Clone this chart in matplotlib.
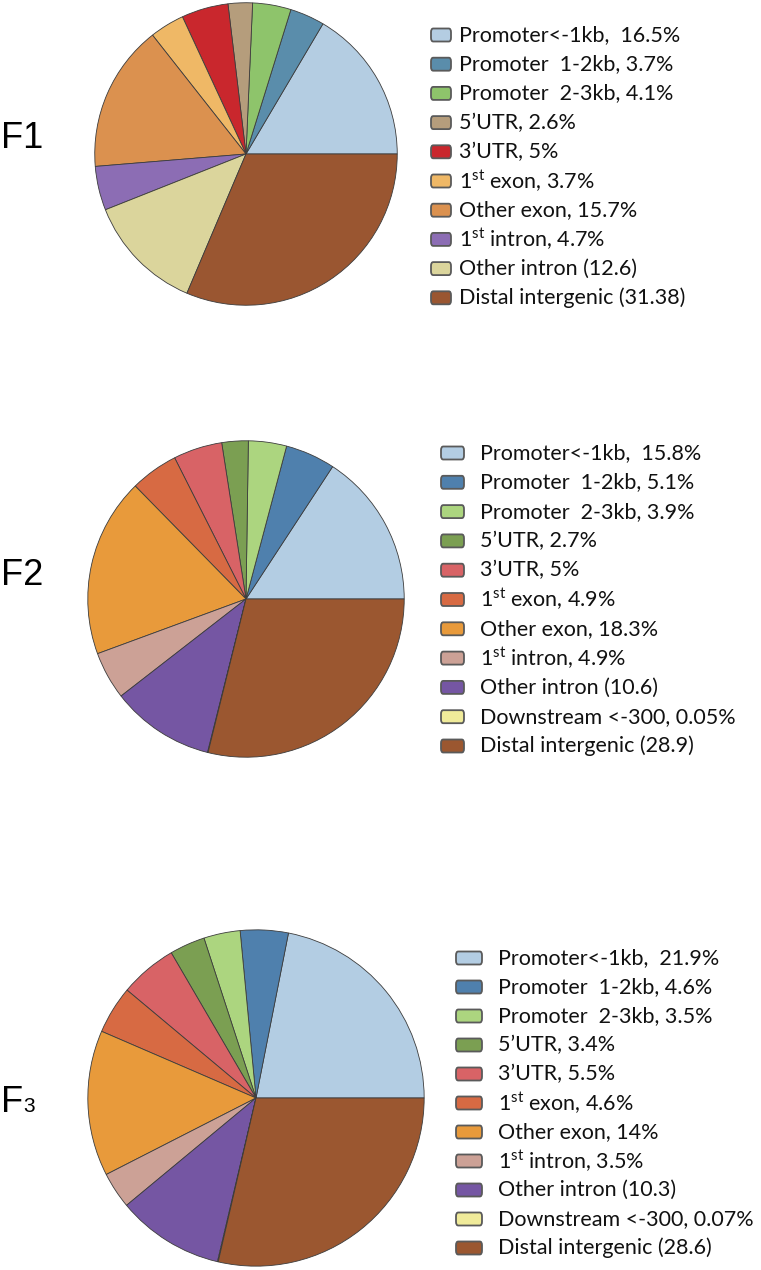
import matplotlib.pyplot as plt
from matplotlib.patches import FancyBboxPatch

plt.rcParams['mathtext.fontset'] = 'custom'
plt.rcParams['mathtext.rm'] = 'Lato'
plt.rcParams['mathtext.it'] = 'Lato'

W, H = 761, 1270

# F1
labels1 = ["Promoter<-1kb,  16.5%", "Promoter  1-2kb, 3.7%", "Promoter  2-3kb, 4.1%",
           "5’UTR, 2.6%", "3’UTR, 5%", "1$^{\\rm st}$ exon, 3.7%", "Other exon, 15.7%",
           "1$^{\\rm st}$ intron, 4.7%", "Other intron (12.6)", "Distal intergenic (31.38)"]
values1 = [16.5, 3.7, 4.1, 2.6, 5, 3.7, 15.7, 4.7, 12.6, 31.38]
colors1 = ["#b4cde2", "#5a8dab", "#8ec46b", "#b59d7c", "#c9272d",
           "#efb866", "#db914f", "#8c6db4", "#dbd59c", "#9a5631"]

# F2
labels2 = ["Promoter<-1kb,  15.8%", "Promoter  1-2kb, 5.1%", "Promoter  2-3kb, 3.9%",
           "5’UTR, 2.7%", "3’UTR, 5%", "1$^{\\rm st}$ exon, 4.9%", "Other exon, 18.3%",
           "1$^{\\rm st}$ intron, 4.9%", "Other intron (10.6)", "Downstream <-300, 0.05%",
           "Distal intergenic (28.9)"]
values2 = [15.8, 5.1, 3.9, 2.7, 5, 4.9, 18.3, 4.9, 10.6, 0.05, 28.9]

# F3
labels3 = ["Promoter<-1kb,  21.9%", "Promoter  1-2kb, 4.6%", "Promoter  2-3kb, 3.5%",
           "5’UTR, 3.4%", "3’UTR, 5.5%", "1$^{\\rm st}$ exon, 4.6%", "Other exon, 14%",
           "1$^{\\rm st}$ intron, 3.5%", "Other intron (10.3)", "Downstream <-300, 0.07%",
           "Distal intergenic (28.6)"]
values3 = [21.9, 4.6, 3.5, 3.4, 5.5, 4.6, 14, 3.5, 10.3, 0.07, 28.6]

colors23 = ["#b3cde3", "#4f80ad", "#acd57f", "#7b9f52", "#d86366", "#d76a43",
            "#e89a3b", "#cca196", "#7556a3", "#f0eb9a", "#9b5730"]

panels = [
    # name, values, labels, colors, pie center (px), radius, legend box x, text x, first row y, row step, box w
    ("1", values1, labels1, colors1, (246, 154), 152, 431, 459, 35, 29.2, 20),
    ("2", values2, labels2, colors23, (246, 599), 159, 441, 480, 453, 29.3, 23),
    ("3", values3, labels3, colors23, (256, 1098), 169, 456, 498, 958, 29.0, 26),
]
name_baseline = [148, 585, 1112]

fig = plt.figure(figsize=(W / 100, H / 100), dpi=100)

for (name, vals, labs, cols, (cx, cy), r, bx, tx, y0, dy, bw), yb in zip(panels, name_baseline):
    ax = fig.add_axes([(cx - r) / W, (H - cy - r) / H, 2 * r / W, 2 * r / H])
    ax.pie(vals, colors=cols, startangle=0, counterclock=True,
           wedgeprops=dict(edgecolor='#3c3c3c', linewidth=0.6))
    ax.set_xlim(-1.005, 1.005)
    ax.set_ylim(-1.005, 1.005)
    ax.axis('off')

    for i, (lab, c) in enumerate(zip(labs, cols)):
        y = y0 + i * dy
        bh = 13
        box = FancyBboxPatch(((bx) / W, (H - y - bh / 2) / H), bw / W, bh / H,
                             boxstyle="round,pad=0,rounding_size=0.003",
                             transform=fig.transFigure, facecolor=c,
                             edgecolor='#5a5a5a', linewidth=1.3)
        fig.patches.append(box)
        fig.text(tx / W, (H - y) / H, lab, fontsize=15.5, family='Lato',
                 va='center', ha='left', color='#111111')

    if name == "3":
        fig.text(1 / W, (H - yb) / H, "F", fontsize=26, family='Liberation Sans', va='baseline')
        fig.text(23 / W, (H - yb) / H, "3", fontsize=15, family='Liberation Sans', va='baseline')
    else:
        fig.text(1 / W, (H - yb) / H, "F" + name, fontsize=26, family='Liberation Sans', va='baseline')

fig.savefig("out.png", dpi=100)
